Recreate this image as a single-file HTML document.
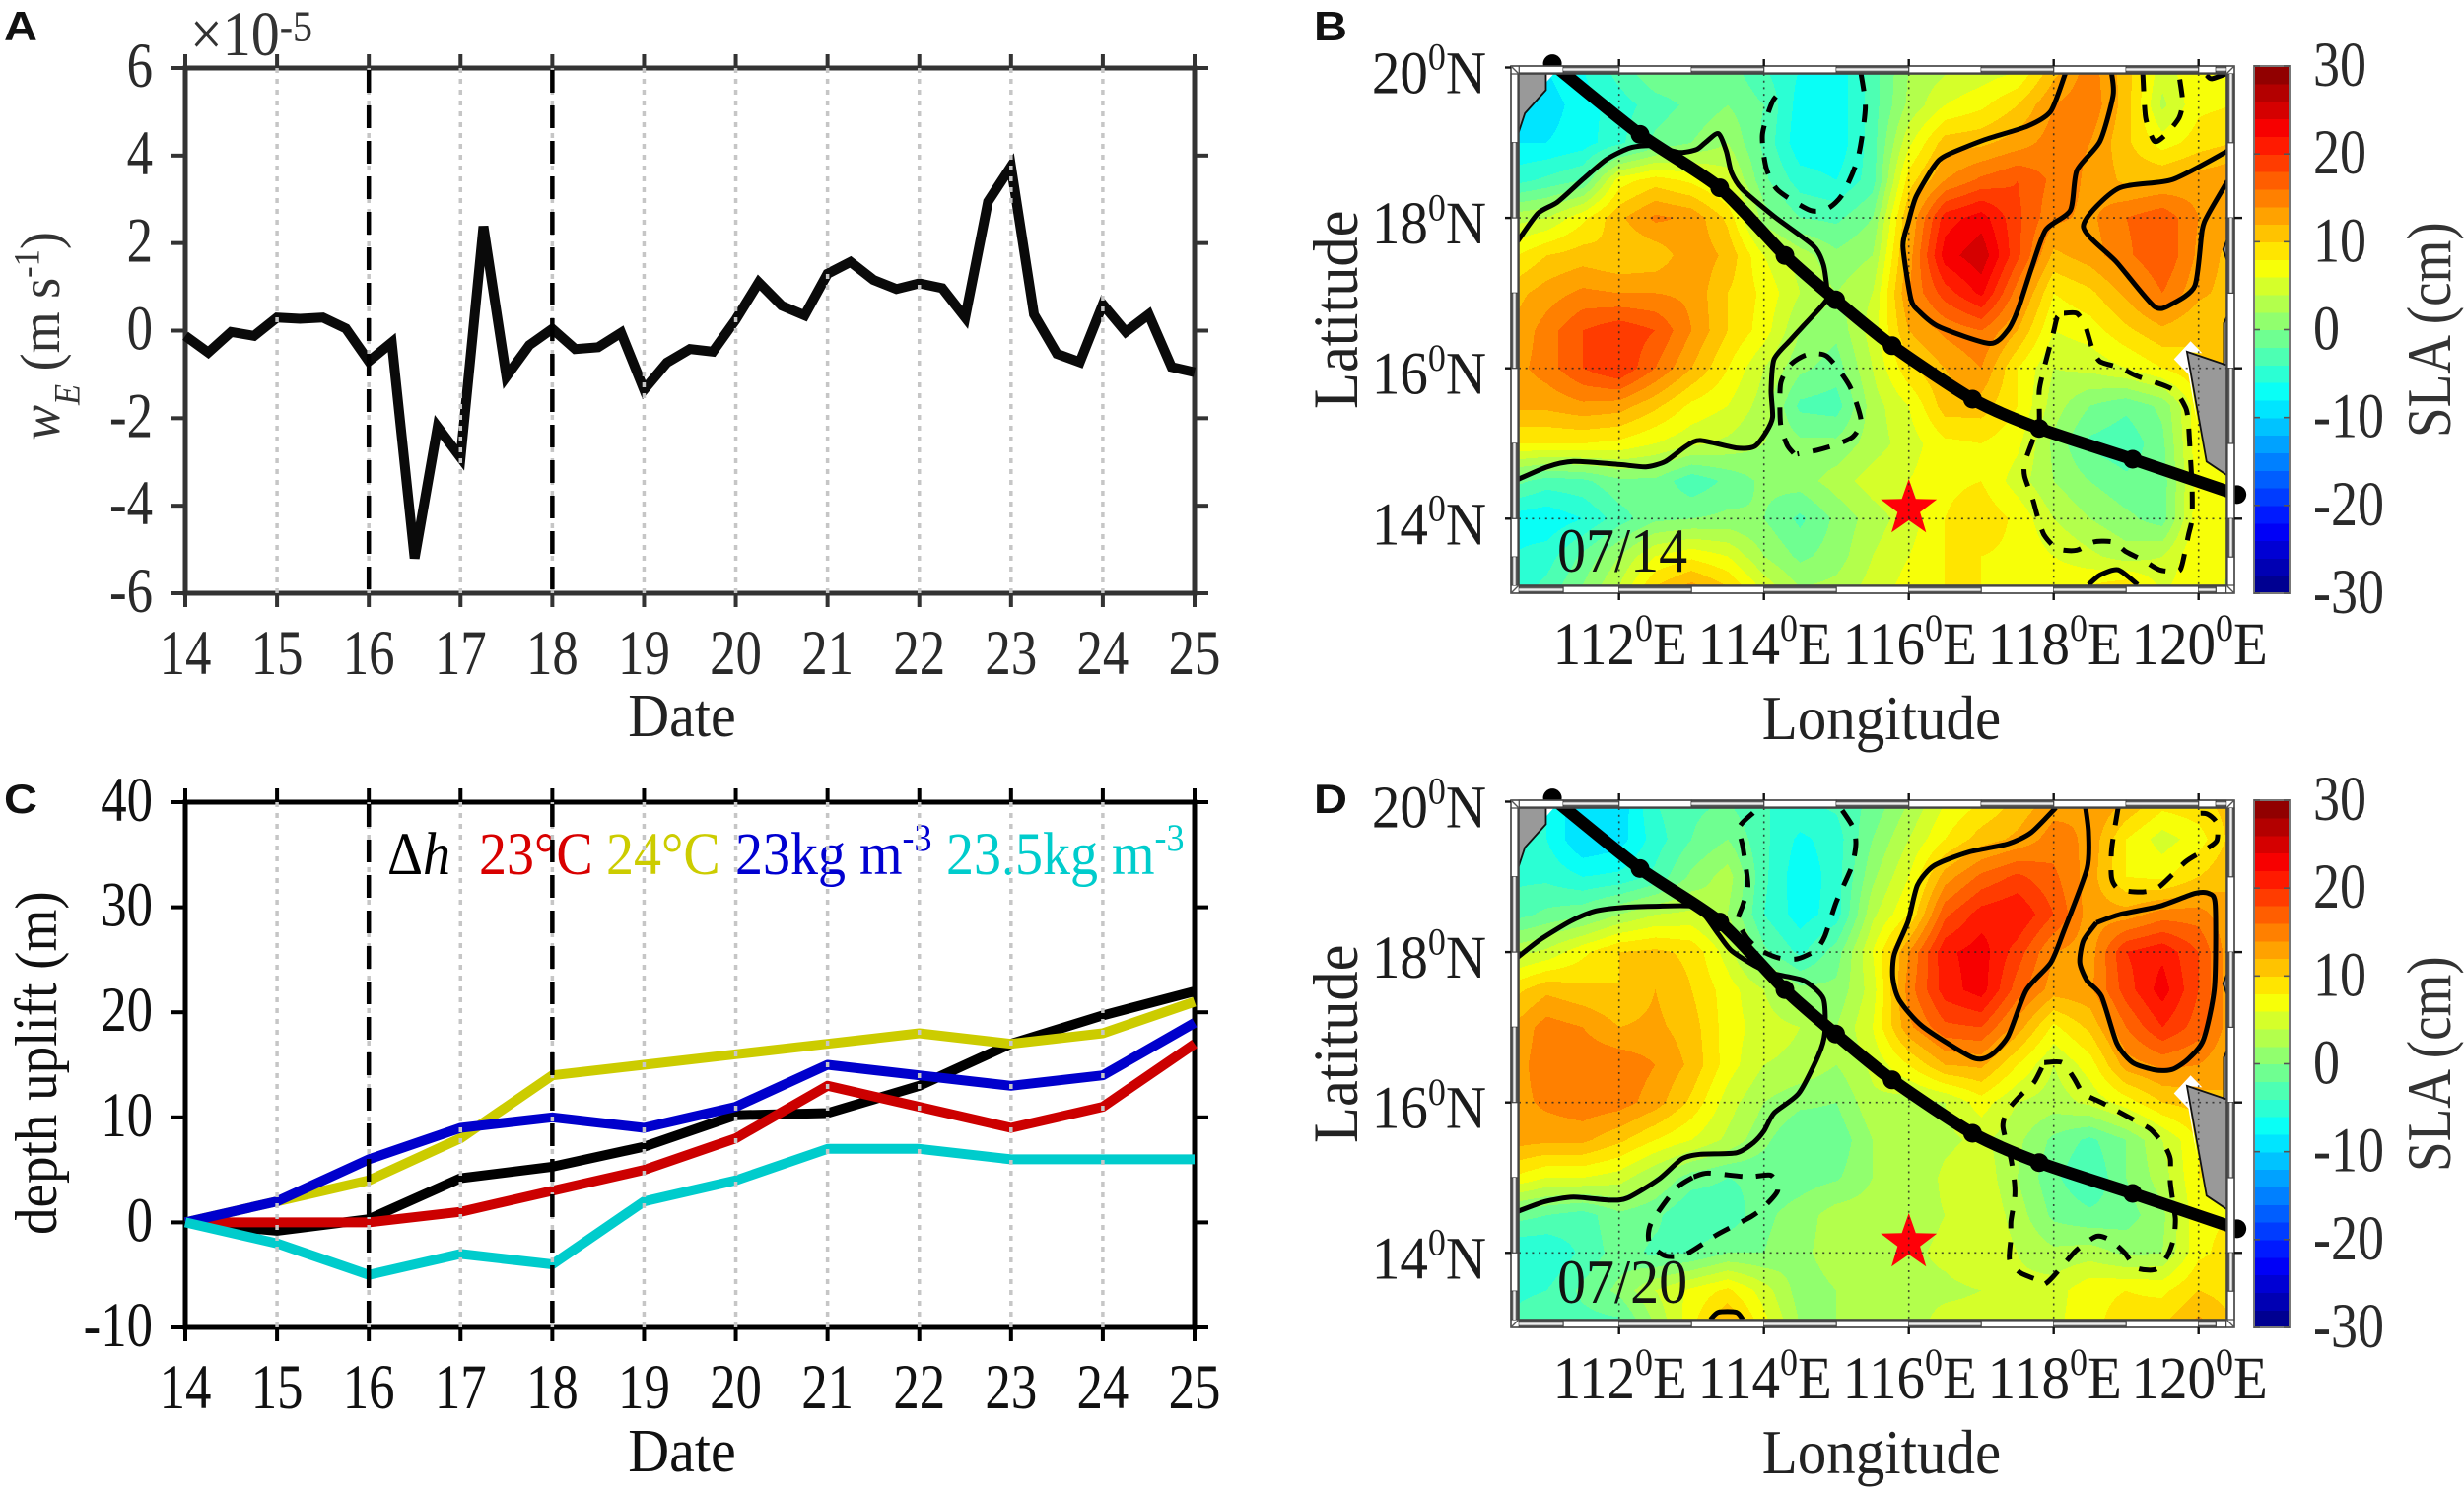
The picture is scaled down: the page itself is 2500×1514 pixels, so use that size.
<!DOCTYPE html>
<html lang="en">
<head>
<meta charset="utf-8">
<title>Ekman pumping, depth uplift and SLA maps</title>
<style>
html,body{margin:0;padding:0;background:#fff;}
svg{display:block;font-family:"Liberation Serif",serif;}
.panel-letter{font-family:"Liberation Sans",sans-serif;font-weight:bold;font-size:42px;fill:#111;}
</style>
</head>
<body>
<svg id="fig" xmlns="http://www.w3.org/2000/svg" width="2500" height="1514" viewBox="0 0 2500 1514">
<defs>
<clipPath id="clip-b"><rect x="1541" y="75" width="718" height="519"/></clipPath>
<clipPath id="clip-d"><rect x="1541" y="820" width="718" height="519"/></clipPath>
</defs>
<rect x="0" y="0" width="2500" height="1514" fill="#fff"/>
<g id="panel-a"></g>
<g id="panel-c"></g>
<g id="panel-b"></g>
<g id="panel-d"></g>

<g id="labels">
<text class="panel-letter" transform="translate(4,41) scale(1.12,1)">A</text>
<text class="panel-letter" transform="translate(1333,41) scale(1.12,1)">B</text>
<text class="panel-letter" transform="translate(4,825) scale(1.12,1)">C</text>
<text class="panel-letter" transform="translate(1333,825) scale(1.12,1)">D</text>

<text transform="translate(193,56) scale(1,1.12)" font-size="58" fill="#333">×10<tspan font-size="40" dy="-13">-5</tspan></text>
<text transform="translate(60,447) rotate(-90) scale(1.08,1.15)" font-size="50" fill="#333"><tspan font-style="italic">w</tspan><tspan font-style="italic" font-size="32" dy="18">E</tspan><tspan dy="-18"> (m s</tspan><tspan font-size="32" dy="-18">-1</tspan><tspan dy="18">)</tspan></text>
<text transform="translate(692,747) scale(1,1.08)" font-size="58" text-anchor="middle" fill="#222">Date</text>

<text transform="translate(57,1253) rotate(-90) scale(1.08,1.18)" font-size="51" fill="#111">depth uplift (m)</text>
<text transform="translate(692,1493) scale(1,1.08)" font-size="58" text-anchor="middle" fill="#111">Date</text>
<text transform="translate(393,887) scale(1,1.1)" font-size="56" fill="#000">Δ<tspan font-style="italic">h</tspan></text>
<text transform="translate(486,887) scale(1,1.1)" font-size="56" fill="#d80000">23°C</text>
<text transform="translate(615,887) scale(1,1.1)" font-size="56" fill="#cccc00">24°C</text>
<text transform="translate(746,887) scale(1,1.1)" font-size="56" fill="#0000d0">23kg m<tspan font-size="36" dy="-22">-3</tspan></text>
<text transform="translate(960,887) scale(1,1.1)" font-size="56" fill="#00cccc">23.5kg m<tspan font-size="36" dy="-22">-3</tspan></text>

<text transform="translate(1377,415) rotate(-90) scale(1.08,1.15)" font-size="56" fill="#222">Latitude</text>
<text transform="translate(1909,750) scale(1,1.08)" font-size="59" text-anchor="middle" fill="#222">Longitude</text>
<text transform="translate(2486,444) rotate(-90) scale(1.08,1.25)" font-size="51" fill="#333">SLA (cm)</text>
<text transform="translate(1580,580) scale(1,1.1)" font-size="58" fill="#111">07/14</text>

<text transform="translate(1377,1160) rotate(-90) scale(1.08,1.15)" font-size="56" fill="#222">Latitude</text>
<text transform="translate(1909,1495) scale(1,1.08)" font-size="59" text-anchor="middle" fill="#222">Longitude</text>
<text transform="translate(2486,1189) rotate(-90) scale(1.08,1.25)" font-size="51" fill="#333">SLA (cm)</text>
<text transform="translate(1580,1322) scale(1,1.1)" font-size="58" fill="#111">07/20</text>
</g>
<g id="grid-top"></g>
</svg>

<script>
/* ---------- Panel A / C data ---------- */
const dayTicks = [14,15,16,17,18,19,20,21,22,23,24,25];
const eventDays = [16,18];
const yTicksA = [6,4,2,0,-2,-4,-6];
const yTicksC = [40,30,20,10,0,-10];
const wE = [-0.12,-0.5,-0.03,-0.12,0.3,0.27,0.3,0.05,-0.7,-0.27,-5.2,-2.2,-2.9,2.38,-1.05,-0.33,0.04,-0.42,-0.38,-0.05,-1.35,-0.73,-0.42,-0.48,0.25,1.1,0.57,0.35,1.3,1.57,1.16,0.95,1.08,0.97,0.3,2.95,3.75,0.37,-0.53,-0.72,0.6,-0.03,0.37,-0.83,-0.95];
const upliftDh = [0,-0.8,0.3,4.2,5.3,7.2,10.2,10.4,13,17,19.7,22];
const uplift23C = [0,0,0,1,3,5,8,13,11,9,11,17];
const uplift24C = [0,2,4,8,14,15,16,17,18,17,18,21];
const uplift23kg = [0,2,6,9,10,9,11,15,14,13,14,19];
const uplift235kg = [0,-2,-5,-3,-4,2,4,7,7,6,6,6];

/* ---------- Map data: SLA (cm), rows lat 20→13 step 0.5, cols lon 110.5→120.5 step 0.5 ---------- */
const slaLats = [20,19.5,19,18.5,18,17.5,17,16.5,16,15.5,15,14.5,14,13.5,13];
const slaLons = [110.5,111,111.5,112,112.5,113,113.5,114,114.5,115,115.5,116,116.5,117,117.5,118,118.5,119,119.5,120,120.5];
const slaB = [
[-7,-8,-6,-3,0,0,-1,-4,-6,-7.5,-3,2,3.5,4.5,5.5,11,15,11,5,8,8],
[-8,-9,-7,-5,-3,-1.5,0,-2,-7,-7.5,-3,2.5,6,7.5,10,14,15.5,11,3.5,7.5,8],
[-8,-8,-7,-4.5,-1.5,0,2,-2.5,-7.5,-7.5,-3,5.5,11,11.5,13,15,14,10.5,7,9,10],
[-5,-3.5,-2,7,9,7.5,5,-1.5,-5,-6,-3,9,14,16.5,18,15.5,13.5,11.5,12,13,14],
[3,4,7.5,11.5,14.5,13.5,9.5,1,-2,-2.5,0,12,21,23,18.5,14.5,13.5,16,17.5,14,12],
[7.5,10,11,10,10.5,13.5,11.5,6,3,0.5,2,13,23,25.5,18.5,11.5,13,15.5,18,13.5,11],
[11,13,14.5,14,14,13.5,10,7.5,4,2,4,14,19,22.5,15,8,9.5,12.5,16,12.5,11],
[12,15,18,19.5,18,14,10,7,2,0.5,5,12,14.5,16,12,6,7,9.5,11.5,10,10],
[13,15,18,20,16,12,8,4,0.5,-1,4,9.5,12,14,8,4,4.5,6,8,10,10],
[12.5,12.5,13.5,13,10.5,7.5,6,3,-2.5,-3,3,6,11,11,8,3,0,-1.5,0.5,7.5,9],
[8,8,8,7.5,6,4.5,3.5,2,0.5,0.5,3,5,7.5,8,6.5,1.5,-2.5,-3.5,-0.5,7.5,8],
[-1,-3,-2.5,-0.5,-0.5,-3.5,-1.5,0.5,1,3,5,6,7.5,8,5,2,0,-1.5,-1,7,8],
[-7,-7.5,-6,-3,-0.5,0,0.5,0,-2.5,0.5,3,5,8,9.5,7.5,4,2,0.5,-1,7.5,8],
[-6,-5,-1.5,2,6,7.5,6,2,-0.5,1,4,6,8,8,7.5,6,4.5,3,4,8,6],
[-5.5,-3,0.5,4.5,11,14,11,6,2.5,3,5,7,8,8,8,8,9,11,6,7.5,5]
];
const slaD = [
[-6,-6,-10,-9.5,-4,-2.5,-2,-4,-4,-3.5,-1.5,2,6,8,10.5,13,14,12,9,9.5,11],
[-4,-6,-10,-9,-5,-2,0,-3.5,-6.5,-5,0,4,8,11,12.5,15,13.5,8,5,7,11],
[-4.5,-4.5,-6,-5.5,-3.5,0.5,3,-3.5,-7.5,-5,1.5,6,13,16.5,18.5,16.5,13,8,7.5,10,12],
[-3,-1.5,-0.5,2,4,4.5,2,-4,-7,-5,3.5,8,17.5,21,22,18,13,13,15,15,12],
[3,4.5,7.5,10,10.5,9.5,5,-1.5,-4.5,-1,6,14,21.5,23,19,14,13,20,21.5,18,12],
[9,11.5,10.5,10,12,10,7,4,0.5,0.5,5,15,21,23,17,13,13.5,19,23,18,12],
[12,15,14,12,12.5,11,7,5,4,2,6,13.5,17.5,18,13,7.5,10.5,16,20,17,12.5],
[12.5,15.5,15.5,15.5,14,11.5,7,4,3.5,2,4.5,8,12,12.5,8,4,7,13,14.5,14,12],
[13,14.5,15.5,15,13,9.5,5,2,0.5,0,3.5,3,4,7,4,3,4.5,7,10,11,12],
[13,12.5,12.5,10.5,8,6,3.5,0.5,-2,-1.5,2,2,3.5,4.5,2.5,-0.5,-2.5,0,4,8,10],
[8,6,6,5,2,-1,-2,-1.5,-1,-0.3,2,2,4.5,5.5,2,-1.5,-4,0,3,8,8],
[-1,-2,-3,-0.5,-1.5,-4,-3.5,-0.5,1,3,3,3,4,6,3,-0.5,-1.5,-1,1.5,7.5,8],
[-6,-6,-3.5,-1,-2.5,-2,0,0,1.5,3,3.5,3.5,4.5,6,4,2.5,3,1.5,2,7.5,9],
[-4.5,-4,-1.5,0.5,4,6.5,8.5,5,1,2,3,3.5,3.5,4,4.5,5,7.5,8,7.5,10,9],
[-3.5,-2.5,-3,-3,2,7.5,13,7,2,2,3,3,5,5,5,5.5,7.5,9,10,13,10]
];

/* typhoon track, lon/lat */
const trackPoints = [[111.08,20.05],[112.29,19.11],[113.39,18.40],[114.29,17.50],[114.99,16.91],[115.77,16.30],[116.88,15.59],[117.80,15.20],[119.09,14.79],[120.53,14.32]];
const stationLonLat = [116,14.135];

/* contours, lon/lat */
const solidB = [
[[110.60,17.69],[110.88,18.06],[111.15,18.21],[111.51,18.52],[111.83,18.78],[112.15,18.93],[112.46,18.96],[112.83,18.87],[113.07,18.91],[113.19,19.00],[113.37,19.12],[113.48,18.89],[113.55,18.61],[113.69,18.39],[114.14,18.02],[114.68,17.63],[114.82,17.38],[114.87,17.06],[114.86,16.90],[114.55,16.57],[114.37,16.38],[114.14,16.12],[114.10,15.70],[114.12,15.35],[114.03,15.15],[113.87,14.96],[113.62,14.94],[113.12,15.04],[112.92,14.96],[112.64,14.76],[112.37,14.69],[112.01,14.72],[111.37,14.76],[111.01,14.69],[110.60,14.52]],
[[118.16,19.92],[117.96,19.42],[117.64,19.22],[117.05,19.04],[116.51,18.83],[116.35,18.69],[116.10,18.28],[115.99,17.93],[115.92,17.62],[116.03,16.92],[116.15,16.75],[116.42,16.55],[117.12,16.33],[117.37,16.51],[117.51,16.79],[117.69,17.32],[117.89,17.84],[118.23,18.10],[118.32,18.63],[118.64,19.02],[118.82,19.63],[118.80,19.92]],
[[120.40,18.89],[119.64,18.51],[118.89,18.39],[118.41,17.89],[118.87,17.41],[119.39,16.82],[119.64,16.86],[119.95,17.10],[120.05,17.84],[120.14,18.06],[120.40,18.49]],
[[120.11,19.90],[120.18,19.85],[120.39,19.92]],
[[118.48,13.12],[118.64,13.25],[118.89,13.32],[119.16,13.12]]
];
const dashedB = [
[[115.34,19.92],[115.40,19.46],[115.30,18.80],[115.09,18.32],[114.89,18.13],[114.64,18.10],[114.19,18.37],[114.03,18.67],[113.98,19.11],[114.12,19.55],[114.30,19.74]],
[[119.23,19.92],[119.27,19.33],[119.39,19.02],[119.55,19.11],[119.73,19.33],[119.78,19.55],[119.73,19.90]],
[[114.41,14.87],[114.32,14.98],[114.23,15.26],[114.23,15.79],[114.37,16.05],[114.59,16.18],[114.87,16.16],[115.18,15.77],[115.34,15.31],[115.23,15.09],[114.98,14.98],[114.73,14.91],[114.46,14.86]],
[[118.14,16.73],[118.32,16.73],[118.44,16.55],[118.53,16.27],[118.64,16.09],[118.91,16.01],[119.14,15.90],[119.64,15.72],[119.82,15.48],[119.86,15.26],[119.89,14.78],[119.91,14.43],[119.91,14.00],[119.86,13.78],[119.77,13.38],[119.71,13.30],[119.46,13.32],[119.23,13.45],[119.00,13.56],[118.82,13.69],[118.55,13.69],[118.32,13.58],[118.05,13.60],[117.87,13.78],[117.78,14.02],[117.71,14.26],[117.60,14.56],[117.60,14.74],[117.71,15.04],[117.80,15.26],[117.80,15.70],[117.87,16.01],[118.00,16.49],[118.05,16.68],[118.14,16.73]]
];
const solidD = [
[[110.60,17.93],[110.92,18.17],[111.33,18.41],[111.65,18.54],[112.01,18.59],[112.51,18.61],[113.01,18.61],[113.19,18.48],[113.37,18.24],[113.55,18.02],[113.87,17.82],[114.14,17.71],[114.55,17.62],[114.82,17.38],[114.84,16.92],[114.75,16.62],[114.48,16.12],[114.14,15.86],[114.00,15.62],[113.85,15.46],[113.62,15.33],[113.12,15.31],[112.87,15.25],[112.55,14.98],[112.12,14.73],[111.87,14.70],[111.37,14.74],[110.97,14.68],[110.60,14.55]],
[[118.03,19.92],[117.69,19.59],[117.37,19.44],[116.83,19.33],[116.35,19.15],[116.12,18.89],[115.99,18.41],[115.80,17.97],[115.78,17.65],[115.87,17.36],[116.19,17.01],[116.87,16.60],[117.12,16.62],[117.37,16.88],[117.62,17.49],[117.96,17.86],[118.14,18.28],[118.46,19.11],[118.48,19.59],[118.44,19.92]],
[[118.59,18.39],[118.91,18.50],[119.46,18.61],[119.95,18.78],[120.14,18.78],[120.23,18.63],[120.22,17.54],[120.07,16.84],[119.86,16.58],[119.64,16.44],[119.41,16.43],[119.09,16.53],[118.87,16.79],[118.66,17.41],[118.46,17.62],[118.36,17.86],[118.41,18.15],[118.59,18.39]],
[[113.26,13.11],[113.37,13.21],[113.62,13.21],[113.71,13.11]]
];
const dashedD = [
[[113.85,19.85],[113.66,19.66],[113.71,19.39],[113.78,18.89],[113.71,18.63],[113.64,18.41],[113.78,18.17],[113.96,18.02],[114.21,17.92],[114.46,17.91],[114.71,18.02],[114.84,18.21],[115.00,18.67],[115.21,19.13],[115.27,19.44],[115.23,19.66],[115.07,19.90]],
[[118.89,19.92],[118.80,19.37],[118.80,18.98],[118.91,18.83],[119.23,18.80],[119.46,18.87],[119.82,19.20],[120.07,19.35],[120.25,19.48],[120.25,19.72],[120.11,19.84],[119.89,19.84]],
[[113.03,15.01],[113.23,15.06],[113.78,15.01],[114.10,15.03],[114.19,14.83],[114.00,14.61],[113.82,14.48],[113.35,14.24],[112.92,13.98],[112.64,13.96],[112.42,14.13],[112.44,14.39],[112.78,14.85],[113.03,15.01]],
[[117.87,16.53],[118.12,16.53],[118.28,16.32],[118.41,16.12],[118.68,15.99],[119.14,15.75],[119.34,15.64],[119.52,15.44],[119.61,15.25],[119.61,14.94],[119.66,14.59],[119.68,14.44],[119.66,14.20],[119.57,13.96],[119.41,13.78],[119.14,13.80],[118.98,14.00],[118.78,14.17],[118.59,14.22],[118.32,14.04],[118.16,13.87],[117.98,13.67],[117.87,13.58],[117.80,13.63],[117.53,13.74],[117.39,13.91],[117.41,14.20],[117.41,14.42],[117.46,14.72],[117.46,14.92],[117.41,15.25],[117.30,15.68],[117.37,15.90],[117.55,16.10],[117.73,16.27],[117.87,16.53]]
];

/* land & no-data polygons, lon/lat */
const landPolys = [
[[110.60,19.95],[110.99,19.95],[110.99,19.70],[110.70,19.39],[110.60,19.10]],
[[119.84,16.22],[120.36,16.05],[120.42,16.05],[120.42,14.56],[120.11,14.76]],
[[120.35,16.05],[120.35,16.6],[120.42,16.75],[120.42,16.05]],
[[120.34,17.58],[120.40,17.73],[120.40,17.41]]
];
const noDataPolys = [
[[110.99,19.95],[111.13,19.95],[110.99,19.80]],
[[119.66,16.12],[119.89,16.36],[120.05,16.20],[119.84,16.22],[119.98,15.28],[119.86,15.92]]
];

const latTicks = [20,18,16,14];
const lonTicks = [112,114,116,118,120];
const lonGridLines = [112,114,116,118,120];
const latGridLines = [18,16,14];
const frameLonEdges = [110.62,111.23,112,113,114,115,116,117,118,119,120,120.24,120.38];
const frameLatEdges = [19.92,19,18,17,16,15,14,13.49,13.12];
const colorbarTicks = [30,20,10,0,-10,-20,-30];

/* ---------- helpers ---------- */
const NS = 'http://www.w3.org/2000/svg';
function make(tag, attrs, parent, name) {
  const el = document.createElementNS(NS, tag);
  for (const k in attrs) el.setAttribute(k, attrs[k]);
  
  
  parent.appendChild(el);
  return el;
}
function label(parent, x, y, parts, size, anchor, fill, name, sx) {
  const t = make('text', {transform:`translate(${x},${y}) scale(${sx||1},1.08)`, 'font-size':size, 'text-anchor':anchor, fill:fill}, parent, name);
  let shift = 0;
  parts.forEach(p => {
    const s = document.createElementNS(NS, 'tspan');
    s.textContent = p.t;
    if (p.sup) { s.setAttribute('font-size', Math.round(size*0.63)); s.setAttribute('dy', -22); shift = 22; }
    else if (shift) { s.setAttribute('dy', shift); shift = 0; }
    t.appendChild(s);
  });
  return t;
}
function polyPath(pts) { return 'M' + pts.map(p => p[0].toFixed(1)+' '+p[1].toFixed(1)).join('L'); }
function smoothPath(pts) {
  let d = 'M'+pts[0][0].toFixed(1)+' '+pts[0][1].toFixed(1);
  for (let i=0;i<pts.length-1;i++){
    const p0=pts[Math.max(i-1,0)],p1=pts[i],p2=pts[i+1],p3=pts[Math.min(i+2,pts.length-1)];
    const k=0.12;
    d+='C'+(p1[0]+(p2[0]-p0[0])*k).toFixed(1)+' '+(p1[1]+(p2[1]-p0[1])*k).toFixed(1)+' '
      +(p2[0]-(p3[0]-p1[0])*k).toFixed(1)+' '+(p2[1]-(p3[1]-p1[1])*k).toFixed(1)+' '
      +p2[0].toFixed(1)+' '+p2[1].toFixed(1);
  }
  return d;
}

/* ---------- line-chart panels ---------- */
const AX_L = 188, AX_R = 1212;
function xDay(d){ return AX_L + (d-14)*(AX_R-AX_L)/11; }

function drawAxes(g, top, bottom, yTicks, yScale, color, prefix) {
  make('rect',{x:AX_L,y:top,width:AX_R-AX_L,height:bottom-top,fill:'none',stroke:color,'stroke-width':5},g,prefix+'-axes-box');
  dayTicks.forEach(d=>{
    const x=xDay(d);
    make('line',{x1:x,x2:x,y1:bottom,y2:bottom+14,stroke:color,'stroke-width':4},g,prefix+'-x-tick-bottom');
    make('line',{x1:x,x2:x,y1:top-14,y2:top,stroke:color,'stroke-width':4},g,prefix+'-x-tick-top');
    label(g,x,bottom+82,[{t:String(d)}],60,'middle',color==='#000'?'#111':'#2a2a2a',prefix+'-x-tick-label',0.88);
  });
  yTicks.forEach(v=>{
    const y=yScale(v);
    make('line',{x1:AX_L-14,x2:AX_L,y1:y,y2:y,stroke:color,'stroke-width':4},g,prefix+'-y-tick-left');
    make('line',{x1:AX_R,x2:AX_R+14,y1:y,y2:y,stroke:color,'stroke-width':4},g,prefix+'-y-tick-right');
    label(g,155,y+19,[{t:String(v)}],60,'end',color==='#000'?'#111':'#2a2a2a',prefix+'-y-tick-label',0.88);
  });
}
function drawTimeGrid(g, top, bottom, prefix){
  dayTicks.slice(1,-1).forEach(d=>{
    make('line',{x1:xDay(d),x2:xDay(d),y1:top,y2:bottom,stroke:'#c6c6c6','stroke-width':3.5,'stroke-dasharray':'5 6'},g,prefix+'-day-gridline');
  });
  eventDays.forEach(d=>{
    make('line',{x1:xDay(d),x2:xDay(d),y1:top+2,y2:bottom,stroke:'#000','stroke-width':4.5,'stroke-dasharray':'23 13'},g,prefix+'-event-line');
  });
}

const gA = document.getElementById('panel-a');
const gC = document.getElementById('panel-c');
const gTop = document.getElementById('grid-top');
const yA = v => 335.5 - v*(602-69)/12;
const yC = v => 1347 - (v+10)*(1347-814)/50;

drawAxes(gA,69,602,yTicksA,yA,'#333','a');
drawAxes(gC,814,1347,yTicksC,yC,'#000','c');

make('path',{d:polyPath(wE.map((v,i)=>[xDay(14+i*0.25),yA(v)])),fill:'none',stroke:'#0a0a0a','stroke-width':10,'stroke-linejoin':'miter','stroke-miterlimit':6},gA,'wE-series-line');

function series(vals,color,name){
  make('path',{d:polyPath(vals.map((v,i)=>[xDay(dayTicks[i]),yC(v)])),fill:'none',stroke:color,'stroke-width':10,'stroke-linejoin':'round'},gC,name);
}
series(upliftDh,'#000','series-delta-h');
series(uplift24C,'#cccc00','series-24c');
series(uplift23C,'#cc0000','series-23c');
series(uplift23kg,'#0000cc','series-23kg');
series(uplift235kg,'#00cccc','series-23-5kg');

/* ---------- maps ---------- */
function clamp01(v){ return Math.max(0,Math.min(1,v)); }
function jet(v){
  const c=a=>Math.round(255*clamp01(1.5-Math.abs(4*v-a)));
  return `rgb(${c(3)},${c(2)},${c(1)})`;
}
const N_BANDS = 30;
function bandColor(i){ return jet((i+0.5)/N_BANDS); }

function drawMap(g, field, dy, clipId, solids, dashes, tag){
  const xLon = lon => 1642.7 + (lon-112)*73.5;
  const yLat = lat => 526.3 + dy - (lat-14)*76.3;
  const lonAt = x => 112 + (x-1642.7)/73.5;
  const latAt = y => 14 + (526.3+dy-y)/76.3;
  const L=1541,R=2259,T=75+dy,B=594+dy;

  /* filled SLA bands from the grid */
  const nRow=slaLats.length, nCol=slaLons.length;
  const dLon=slaLons[1]-slaLons[0], dLat=slaLats[0]-slaLats[1];
  const sample=(lon,lat)=>{
    let c=(lon-slaLons[0])/dLon, r=(slaLats[0]-lat)/dLat;
    c=Math.max(0,Math.min(nCol-1.001,c)); r=Math.max(0,Math.min(nRow-1.001,r));
    const c0=Math.floor(c), r0=Math.floor(r), fc=c-c0, fr=r-r0;
    return field[r0][c0]*(1-fc)*(1-fr)+field[r0][c0+1]*fc*(1-fr)+field[r0+1][c0]*(1-fc)*fr+field[r0+1][c0+1]*fc*fr;
  };
  const bandOf=v=>Math.max(0,Math.min(N_BANDS-1,Math.floor((v+30)/2)));
  const parts=new Array(N_BANDS).fill('');
  for(let y=T;y<B;y++){
    const lat=latAt(y+0.5);
    let start=L, cur=bandOf(sample(lonAt(L+0.5),lat));
    for(let x=L+1;x<=R;x++){
      const b=x<R?bandOf(sample(lonAt(x+0.5),lat)):-1;
      if(b!==cur){
        parts[cur]+=`M${start} ${y}h${x-start}v1h${start-x}z`;
        start=x; cur=b;
      }
    }
  }
  const mapG=make('g',{'shape-rendering':'crispEdges'},g,tag+'-sla-field');
  parts.forEach((d,i)=>{
    if(d) make('path',{d:d,fill:bandColor(i)},mapG,tag+'-sla-band');
  });

  const toPx=pts=>pts.map(p=>[xLon(p[0]),yLat(p[1])]);
  const clipG=make('g',{'clip-path':`url(#${clipId})`},g,tag+'-map-overlays');

  noDataPolys.forEach(poly=>{
    make('path',{d:polyPath(toPx(poly))+'z',fill:'#fff'},clipG,tag+'-no-data-patch');
  });
  landPolys.forEach(poly=>{
    make('path',{d:polyPath(toPx(poly))+'z',fill:'#999','stroke':'#111','stroke-width':1.8},clipG,tag+'-land');
  });

  /* star */
  const cx=xLon(stationLonLat[0]), cy=yLat(stationLonLat[1]);
  const starPts=[];
  for(let i=0;i<10;i++){
    const r=i%2?12:30, a=-Math.PI/2+i*Math.PI/5;
    starPts.push([cx+r*Math.cos(a),cy+r*Math.sin(a)]);
  }
  make('path',{d:polyPath(starPts)+'z',fill:'#ff0008'},clipG,tag+'-station-star');

  /* dotted graticule */
  lonGridLines.forEach(l=>{
    make('line',{x1:xLon(l),x2:xLon(l),y1:T,y2:B,stroke:'#222','stroke-width':1.6,'stroke-dasharray':'2 4.7','stroke-opacity':0.8},clipG,tag+'-longitude-gridline');
  });
  latGridLines.forEach(l=>{
    make('line',{x1:L,x2:R,y1:yLat(l),y2:yLat(l),stroke:'#222','stroke-width':1.6,'stroke-dasharray':'2 4.7','stroke-opacity':0.8},clipG,tag+'-latitude-gridline');
  });

  solids.forEach(c=>{
    make('path',{d:smoothPath(toPx(c)),fill:'none',stroke:'#000','stroke-width':5,'stroke-linejoin':'round'},clipG,tag+'-contour-solid');
  });
  dashes.forEach(c=>{
    make('path',{d:smoothPath(toPx(c)),fill:'none',stroke:'#000','stroke-width':5,'stroke-dasharray':'18 14'},clipG,tag+'-contour-dashed');
  });

  /* track */
  make('path',{d:smoothPath(toPx(trackPoints)),fill:'none',stroke:'#000','stroke-width':12.5,'stroke-linecap':'round'},clipG,tag+'-typhoon-track');
  toPx(trackPoints).forEach(p=>{
    make('circle',{cx:p[0],cy:p[1],r:9.5,fill:'#000'},g,tag+'-track-point');
  });

  /* fancy frame */
  const fr=make('g',{},g,tag+'-map-frame');
  const band=(x,y,w,h,white,vert)=>{
    make('rect',{x:x,y:y,width:w,height:h,fill:white?'#fff':'#5a5a5a',stroke:'#444','stroke-width':1.2},fr,tag+'-frame-segment');
    if(!white){
      if(vert) make('rect',{x:x+w/2-1.2,y:y,width:2.4,height:h,fill:'#eee'},fr,tag+'-frame-segment-inner');
      else make('rect',{x:x,y:y+h/2-1.2,width:w,height:2.4,fill:'#eee'},fr,tag+'-frame-segment-inner');
    }
  };
  const fTop=67+dy, fBot=602+dy, fL=1533, fR=2267;
  for(let i=0;i<frameLonEdges.length-1;i++){
    const a=xLon(frameLonEdges[i]), b=xLon(frameLonEdges[i+1]);
    band(a,fTop,b-a,T-fTop-1,i%2===0,false);
    band(a,B+1,b-a,fBot-B-1,i%2===1,false);
  }
  for(let i=0;i<frameLatEdges.length-1;i++){
    const a=i===0?T:yLat(frameLatEdges[i]), b=i===frameLatEdges.length-2?B:yLat(frameLatEdges[i+1]);
    band(fL,a,L-fL-1,b-a,i%2===0,true);
    band(R+1,a,fR-R-1,b-a,i%2===1,true);
  }
  make('rect',{x:fL,y:fTop,width:fR-fL,height:fBot-fTop,fill:'none',stroke:'#444','stroke-width':1.6},fr,tag+'-frame-outer');
  make('rect',{x:L,y:T,width:R-L,height:B-T,fill:'none',stroke:'#444','stroke-width':1.6},fr,tag+'-frame-inner');
  make('path',{d:`M${fL} ${fTop}L${L} ${T}M${fR} ${fTop}L${R} ${T}M${fL} ${fBot}L${L} ${B}M${fR} ${fBot}L${R} ${B}`,stroke:'#555','stroke-width':1.4,fill:'none'},fr,tag+'-frame-corners');

  /* ticks + labels */
  lonTicks.forEach(l=>{
    const x=xLon(l);
    make('line',{x1:x,x2:x,y1:fTop-7,y2:fTop,stroke:'#111','stroke-width':2.4},g,tag+'-lon-tick-top');
    make('line',{x1:x,x2:x,y1:fBot,y2:fBot+7,stroke:'#111','stroke-width':2.4},g,tag+'-lon-tick-bottom');
    label(g,x+1,674+dy,[{t:String(l)},{t:'0',sup:true},{t:'E'}],57,'middle','#1c1c1c',tag+'-lon-tick-label');
  });
  latTicks.forEach(l=>{
    const y=yLat(l);
    make('line',{x1:fL-6,x2:fL,y1:y,y2:y,stroke:'#111','stroke-width':2.4},g,tag+'-lat-tick-left');
    if(l!==20) make('line',{x1:fR,x2:fR+8,y1:y,y2:y,stroke:'#111','stroke-width':2.4},g,tag+'-lat-tick-right');
    label(g,1508,y+26,[{t:String(l)},{t:'0',sup:true},{t:'N'}],57,'end','#1c1c1c',tag+'-lat-tick-label');
  });

  /* colorbar */
  const cbG=make('g',{},g,tag+'-colorbar');
  const cbT=67+dy, cbB=602+dy, cbL=2287, cbW=36;
  const yCb=v=>cbB-(v+30)*(cbB-cbT)/60;
  for(let i=0;i<N_BANDS;i++){
    make('rect',{x:cbL,y:yCb(-30+(i+1)*2),width:cbW,height:(cbB-cbT)/N_BANDS+0.6,fill:bandColor(i),'shape-rendering':'crispEdges'},cbG,tag+'-colorbar-band');
  }
  make('rect',{x:cbL,y:cbT,width:cbW,height:cbB-cbT,fill:'none',stroke:'#777','stroke-width':2},cbG,tag+'-colorbar-border');
  colorbarTicks.forEach(v=>{
    const y=yCb(v);
    make('line',{x1:cbL+cbW-6,x2:cbL+cbW,y1:y,y2:y,stroke:'#555','stroke-width':1.6},cbG,tag+'-colorbar-tick-right');
    make('line',{x1:cbL,x2:cbL+6,y1:y,y2:y,stroke:'#555','stroke-width':1.6},cbG,tag+'-colorbar-tick-left');
    label(cbG,2347,y+20,[{t:String(v)}],60,'start','#2a2a2a',tag+'-colorbar-tick-label',0.9);
  });
}

drawMap(document.getElementById('panel-b'),slaB,0,'clip-b',solidB,dashedB,'b');
drawMap(document.getElementById('panel-d'),slaD,745,'clip-d',solidD,dashedD,'d');

/* time grids sit on top of the series and legend */
drawTimeGrid(gTop,69,602,'a');
drawTimeGrid(gTop,814,1347,'c');
</script>
</body>
</html>
